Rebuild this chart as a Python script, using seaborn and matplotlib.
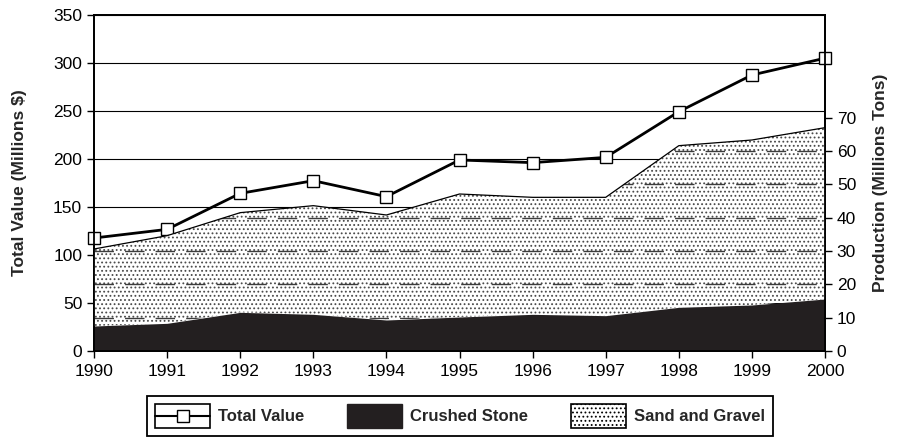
import numpy as np
import pandas as pd
import matplotlib
matplotlib.use("Agg")
import matplotlib.pyplot as plt
import seaborn as sns
from matplotlib.lines import Line2D
from matplotlib.patches import Patch, PathPatch, Rectangle
from matplotlib.legend_handler import HandlerBase

# data
years = [1990, 1991, 1992, 1993, 1994, 1995, 1996, 1997, 1998, 1999, 2000]
total_value = [117.7, 126.7, 164.2, 177.4, 160.8, 199.0, 196.2, 201.7, 249.3, 287.5, 305.0]   # millions $
crushed_stone = [7.5, 8.3, 11.6, 11.0, 9.3, 10.2, 11.0, 10.6, 13.1, 13.8, 15.6]             # millions tons
total_production = [30.6, 34.6, 41.5, 43.6, 40.8, 47.1, 46.1, 46.1, 61.6, 63.3, 67.0]        # crushed + sand/gravel

df = pd.DataFrame({"year": years, "value": total_value,
                   "crushed": crushed_stone, "total_prod": total_production})


class BoxLineHandler(HandlerBase):
    # boxed line-with-square legend key, like the original
    def create_artists(self, legend, orig_handle, xdescent, ydescent,
                       width, height, fontsize, trans):
        x0, y0 = -xdescent, -ydescent
        yc = y0 + height / 2
        box = Rectangle((x0, y0), width, height, facecolor='white',
                        edgecolor='black', lw=1.2, transform=trans)
        ln = Line2D([x0, x0 + width], [yc, yc], color='black', lw=1.5, transform=trans)
        mk = Line2D([x0 + width / 2], [yc], ls='none', marker='s', markersize=8,
                    markerfacecolor='white', markeredgecolor='black', transform=trans)
        return [box, ln, mk]


sns.set_theme(style="white")
plt.rcParams['font.family'] = ['Liberation Sans', 'DejaVu Sans']
plt.rcParams['hatch.linewidth'] = 0.8

fig = plt.figure(figsize=(8.98, 4.38), dpi=100)
ax1 = fig.add_axes([94/898, 1 - 351/438, (825-94)/898, (351-15)/438])
ax2 = ax1.twinx()

# left axis: total value
ax1.set_xlim(1990, 2000)
ax1.set_ylim(0, 350)
ax1.set_yticks(np.arange(0, 351, 50))
ax1.set_xticks(years)
for y in range(50, 351, 50):
    ax1.axhline(y, color='black', lw=0.8, zorder=0)
sns.lineplot(data=df, x="year", y="value", ax=ax1, color='black', lw=2,
             marker='s', markersize=8, markerfacecolor='white',
             markeredgecolor='black', markeredgewidth=1, clip_on=False, zorder=5)

# right axis: production areas
ax2.set_ylim(0, 100.8)
ax2.set_yticks(np.arange(0, 71, 10))
sand = ax2.fill_between(df["year"], df["crushed"], df["total_prod"], facecolor='white',
                        edgecolor='#4a4a4a', linewidth=0, hatch='....', zorder=1)
ax2.fill_between(df["year"], 0, df["crushed"], color='#231f20', lw=0, zorder=2)
ax2.plot(df["year"], df["total_prod"], color='black', lw=0.9, zorder=3)

# dashed production gridlines, only inside the sand & gravel band
clip_patch = PathPatch(sand.get_paths()[0], transform=ax2.transData,
                       facecolor='none', edgecolor='none')
ax2.add_patch(clip_patch)
for lv in range(10, 61, 10):
    ln, = ax2.plot([1990, 2000], [lv, lv], color='#3c3c3c', lw=1.0,
                   dashes=(14, 8), zorder=1.5)
    ln.set_clip_path(clip_patch)

for ax in (ax1, ax2):
    for s in ax.spines.values():
        s.set_color('black')
        s.set_linewidth(1.3)
    ax.tick_params(axis='both', which='major', direction='out', length=5, width=1,
                   color='black', labelsize=12.5, labelcolor='black')
ax1.tick_params(axis='x', pad=4)
ax1.tick_params(left=True, bottom=True)
ax2.tick_params(right=True)
ax1.set_xlabel("")
ax1.set_ylabel("Total Value (Millions $)", fontsize=12.5, fontweight='bold')
ax2.set_ylabel("Production (Millions Tons)", fontsize=12.5, fontweight='bold')
ax2.yaxis.set_label_coords(1.066, 0.5)
ax1.yaxis.set_label_coords(-0.092, 0.5)

total_key = Line2D([], [], color='black')
handles = [
    total_key,
    Patch(facecolor='#231f20', edgecolor='#231f20'),
    Patch(facecolor='white', edgecolor='black', hatch='....', lw=1.2),
]
labels = ["Total Value", "Crushed Stone", "Sand and Gravel"]
leg = fig.legend(handles, labels, loc='center', bbox_to_anchor=(460/898, 1 - 416/438),
                 ncol=3, frameon=True, fancybox=False, framealpha=1, edgecolor='black',
                 prop={'size': 12, 'weight': 'bold'}, handlelength=3.3, handleheight=1.8,
                 handletextpad=0.45, columnspacing=2.6, borderpad=0.5,
                 handler_map={total_key: BoxLineHandler()})
leg.get_frame().set_linewidth(1.3)

fig.savefig("out.png", dpi=100)
